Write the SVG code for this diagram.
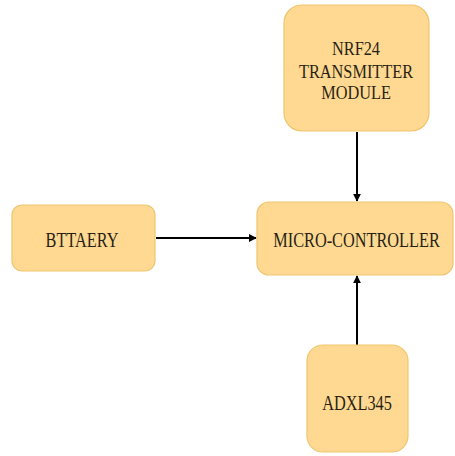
<svg xmlns="http://www.w3.org/2000/svg" width="455" height="456" viewBox="0 0 455 456">
<defs>
<style>
.box{fill:#FFD991;stroke:#EEC56E;stroke-width:1.2}
.lbl{font-family:"Liberation Serif","Times New Roman","DejaVu Serif",serif;font-size:16.3px;fill:#2a1f14;text-anchor:middle}
.con{stroke:#000;stroke-width:2;fill:none}
</style>
<marker id="ah" viewBox="0 0 10 10" refX="9" refY="5" markerWidth="4" markerHeight="4" orient="auto" markerUnits="strokeWidth">
<path d="M0,0 L10,5 L0,10 z" fill="#000"/>
</marker>
</defs>
<rect width="455" height="456" fill="#fff"/>
<g id="connectors">
<line class="con" x1="156" y1="238" x2="256" y2="238" marker-end="url(#ah)"/>
<line class="con" x1="357" y1="132" x2="357" y2="201" marker-end="url(#ah)"/>
<line class="con" x1="357" y1="345" x2="357" y2="276" marker-end="url(#ah)"/>
</g>
<g id="nrf24">
<rect class="box" x="284" y="5" width="145" height="126" rx="18"/>
<text class="lbl" transform="translate(356,55) scale(1,1.2)">NRF24</text>
<text class="lbl" transform="translate(356,78) scale(1,1.2)">TRANSMITTER</text>
<text class="lbl" transform="translate(356,99) scale(1,1.2)">MODULE</text>
</g>
<g id="battery">
<rect class="box" x="12" y="205" width="143" height="66" rx="10"/>
<text class="lbl" transform="translate(82,247) scale(1,1.3)">BTTAERY</text>
</g>
<g id="mcu">
<rect class="box" x="257" y="202" width="196" height="73" rx="12"/>
<text class="lbl" transform="translate(356.5,247) scale(1,1.3)">MICRO-CONTROLLER</text>
</g>
<g id="adxl">
<rect class="box" x="307" y="345" width="101" height="107" rx="16"/>
<text class="lbl" transform="translate(357,410) scale(1,1.3)">ADXL345</text>
</g>
</svg>
